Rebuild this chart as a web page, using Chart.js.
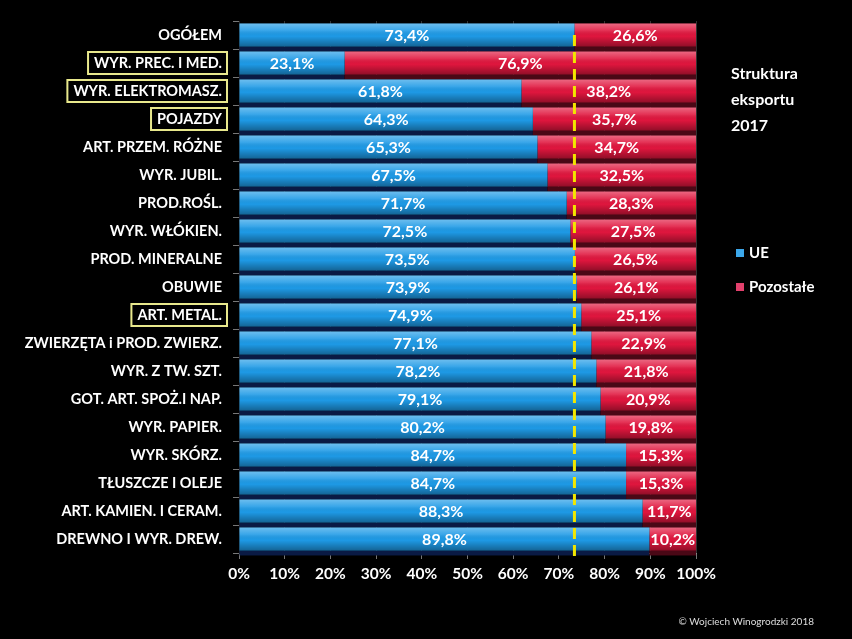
<!DOCTYPE html>
<html>
<head>
<meta charset="utf-8">
<title>Struktura eksportu 2017</title>
<script src="https://cdn.jsdelivr.net/npm/chart.js@4"></script>
<style>
    html, body { margin: 0; padding: 0; background: #000; }
    #wrap { position: relative; width: 852px; height: 639px; background: #000; overflow: hidden; }
    #chart { position: absolute; left: 0; top: 0; }
    .side { position: absolute; color: #fff; font-family: Lato, "Open Sans", sans-serif; font-weight: bold; }
    #title { left: 731px; top: 60px; font-size: 16px; line-height: 26px; }
    .leg { font-size: 15px; line-height: 18px; }
    .leg i { display: inline-block; width: 8px; height: 8px; margin-right: 5px; vertical-align: 1px; }
    #copy { right: 38px; top: 615px; font-size: 10px; font-weight: normal; color: #ddd; }
</style>
</head>
<body>
<div id="wrap">
    <canvas id="chart" width="852" height="639"></canvas>
    <div id="title" class="side">Struktura<br>eksportu<br>2017</div>
    <div class="side leg" style="left:736px; top:243px;"><i style="background:#3ba7ea"></i>UE</div>
    <div class="side leg" style="left:736px; top:277px;"><i style="background:#e2406c"></i>Pozostałe</div>
    <div id="copy" class="side">© Wojciech Winogrodzki 2018</div>
</div>
<script>
const categories = [
    'OGÓŁEM', 'WYR. PREC. I MED.', 'WYR. ELEKTROMASZ.', 'POJAZDY', 'ART. PRZEM. RÓŻNE',
    'WYR. JUBIL.', 'PROD.ROŚL.', 'WYR. WŁÓKIEN.', 'PROD. MINERALNE', 'OBUWIE',
    'ART. METAL.', 'ZWIERZĘTA i PROD. ZWIERZ.', 'WYR. Z TW. SZT.', 'GOT. ART. SPOŻ.I NAP.',
    'WYR. PAPIER.', 'WYR. SKÓRZ.', 'TŁUSZCZE I OLEJE', 'ART. KAMIEN. I CERAM.', 'DREWNO I WYR. DREW.'
];
const ueShare = [73.4, 23.1, 61.8, 64.3, 65.3, 67.5, 71.7, 72.5, 73.5, 73.9, 74.9, 77.1, 78.2, 79.1, 80.2, 84.7, 84.7, 88.3, 89.8];
const otherShare = [26.6, 76.9, 38.2, 35.7, 34.7, 32.5, 28.3, 27.5, 26.5, 26.1, 25.1, 22.9, 21.8, 20.9, 19.8, 15.3, 15.3, 11.7, 10.2];
const xTicks = [0, 10, 20, 30, 40, 50, 60, 70, 80, 90, 100];
const highlighted = ['WYR. PREC. I MED.', 'WYR. ELEKTROMASZ.', 'POJAZDY', 'ART. METAL.'];
const seriesNames = ['UE', 'Pozostałe'];

const FONT = 'Lato, "Open Sans", sans-serif';
const LABEL_SIZE = 14.5;
const shadowColors = ['#0a1a44', '#4a0816'];

// dark band under each bar (3D shadow look)
const barShadow = {
    id: 'barShadow',
    beforeDatasetsDraw(chart) {
        const ctx = chart.ctx;
        ctx.save();
        chart.data.datasets.forEach((ds, di) => {
            chart.getDatasetMeta(di).data.forEach(bar => {
                const left = Math.min(bar.base, bar.x);
                const w = Math.abs(bar.x - bar.base);
                ctx.fillStyle = shadowColors[di];
                ctx.fillRect(left, bar.y + bar.height / 2, w, 5);
            });
        });
        ctx.restore();
    }
};

// gloss on bars, average line, value labels
const barDecor = {
    id: 'barDecor',
    afterDatasetsDraw(chart) {
        const ctx = chart.ctx;
        ctx.save();
        chart.data.datasets.forEach((ds, di) => {
            chart.getDatasetMeta(di).data.forEach(bar => {
                const left = Math.min(bar.base, bar.x);
                const w = Math.abs(bar.x - bar.base);
                const top = bar.y - bar.height / 2;
                const g = ctx.createLinearGradient(0, top, 0, top + bar.height);
                g.addColorStop(0, 'rgba(255,255,255,0.35)');
                g.addColorStop(0.3, 'rgba(255,255,255,0.12)');
                g.addColorStop(0.55, 'rgba(0,0,0,0)');
                g.addColorStop(1, 'rgba(0,0,0,0.35)');
                ctx.fillStyle = g;
                ctx.fillRect(left, top, w, bar.height);
            });
        });

        // dashed line at the overall value
        const xs = chart.scales.x;
        const ys = chart.scales.y;
        const xAvg = xs.getPixelForValue(ueShare[0]);
        ctx.strokeStyle = '#f2e600';
        ctx.lineWidth = 3;
        ctx.setLineDash([11, 6]);
        ctx.beginPath();
        ctx.moveTo(xAvg, ys.getPixelForValue(0));
        ctx.lineTo(xAvg, chart.chartArea.bottom + 5);
        ctx.stroke();
        ctx.setLineDash([]);

        ctx.font = 'bold 16px ' + FONT;
        ctx.fillStyle = '#fff';
        ctx.textAlign = 'center';
        ctx.textBaseline = 'middle';
        chart.data.datasets.forEach((ds, di) => {
            chart.getDatasetMeta(di).data.forEach((bar, i) => {
                const txt = ds.data[i].toFixed(1).replace('.', ',') + '%';
                ctx.fillText(txt, (bar.base + bar.x) / 2, bar.y + 1);
            });
        });
        ctx.restore();
    }
};

// yellow frames round some category labels
const labelBoxes = {
    id: 'labelBoxes',
    afterDraw(chart) {
        const ctx = chart.ctx;
        const ys = chart.scales.y;
        ctx.save();
        ctx.font = 'bold ' + LABEL_SIZE + 'px ' + FONT;
        ctx.strokeStyle = '#e8e88c';
        ctx.lineWidth = 2;
        categories.forEach((c, i) => {
            if (!highlighted.includes(c)) return;
            const y = ys.getPixelForTick(i);
            const w = ctx.measureText(c).width;
            const right = ys.right - 6 - 11;
            ctx.strokeRect(right - w - 6, y - 11, w + 11, 22);
        });
        ctx.restore();
    }
};

new Chart(document.getElementById('chart').getContext('2d'), {
    type: 'bar',
    data: {
        labels: categories,
        datasets: [
            { label: seriesNames[0], data: ueShare, backgroundColor: '#1e9ae6' },
            { label: seriesNames[1], data: otherShare, backgroundColor: '#e0163e' }
        ]
    },
    options: {
        indexAxis: 'y',
        responsive: false,
        animation: false,
        datasets: {
            bar: { categoryPercentage: 1, barPercentage: 0.82, borderWidth: 0 }
        },
        layout: { padding: { left: 0, right: 156, top: 21, bottom: 46 } },
        plugins: {
            legend: { display: false },
            tooltip: { enabled: false }
        },
        scales: {
            x: {
                stacked: true,
                min: 0,
                max: 100,
                afterFit: s => { s.height = 40; },
                afterBuildTicks: s => { s.ticks = xTicks.map(v => ({ value: v })); },
                grid: { color: '#333', tickColor: '#777', tickLength: 6 },
                border: { color: '#888' },
                ticks: {
                    color: '#fff',
                    padding: 6,
                    autoSkip: false,
                    maxRotation: 0,
                    minRotation: 0,
                    font: { family: FONT, size: 15.5, weight: 'bold' },
                    callback: v => v + '%'
                }
            },
            y: {
                stacked: true,
                afterFit: s => { s.width = 239; },
                grid: { drawOnChartArea: false, tickColor: '#777', tickLength: 6 },
                border: { color: '#222' },
                ticks: {
                    color: '#fff',
                    padding: 11,
                    autoSkip: false,
                    font: { family: FONT, size: LABEL_SIZE, weight: 'bold' }
                }
            }
        }
    },
    plugins: [barShadow, barDecor, labelBoxes]
});
</script>
</body>
</html>
